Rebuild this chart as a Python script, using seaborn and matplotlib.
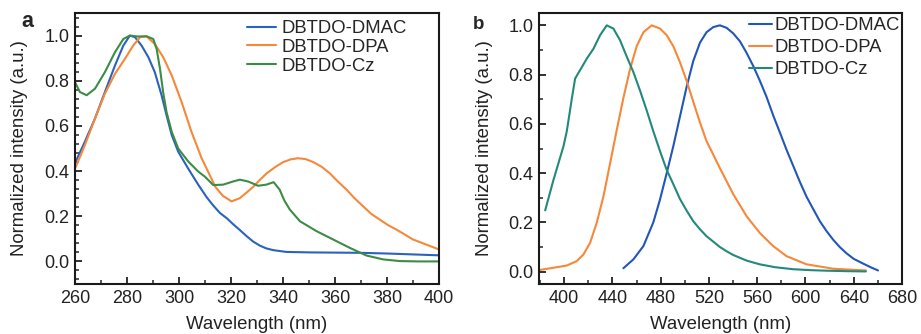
import numpy as np
import pandas as pd
import seaborn as sns
import matplotlib.pyplot as plt
from matplotlib.ticker import MultipleLocator

# ---------------- Panel a: absorption ----------------
a_dmac_x = [260, 263.8, 267.7, 271.5, 275.4, 278.6, 281.1, 283.1, 285.6, 288.2, 290.7, 293.3,
            295.2, 297.2, 299.7, 303.6, 307.4, 310.6, 313, 315.7, 318.5, 320.8, 323.5, 326,
            328.5, 331.1, 333.5, 336.2, 341.3, 350, 360, 370, 380, 390, 400]
a_dmac_y = [0.435, 0.53, 0.633, 0.75, 0.868, 0.956, 1.0, 0.993, 0.956, 0.905, 0.838, 0.736,
            0.648, 0.56, 0.486, 0.41, 0.34, 0.285, 0.25, 0.215, 0.19, 0.165, 0.138, 0.112,
            0.088, 0.07, 0.058, 0.05, 0.042, 0.04, 0.039, 0.038, 0.035, 0.031, 0.027]

a_dpa_x = [260, 263.8, 267.7, 271.5, 275.4, 279.2, 282.4, 285, 287.5, 290.7, 293.9, 297.2,
           301, 304.8, 308.7, 311.5, 314, 316.9, 320.2, 323.4, 326, 328.5, 331, 333.7, 337,
           340.1, 343, 345.8, 348.7, 351.6, 355, 358, 361, 364.4, 367.5, 370.8, 374, 377.2,
           380.5, 383.6, 387, 390, 395, 400]
a_dpa_y = [0.41, 0.515, 0.633, 0.743, 0.831, 0.897, 0.956, 0.993, 0.997, 0.963, 0.905, 0.824,
           0.706, 0.574, 0.457, 0.39, 0.33, 0.29, 0.266, 0.28, 0.305, 0.33, 0.36, 0.39, 0.418,
           0.44, 0.452, 0.457, 0.453, 0.44, 0.418, 0.39, 0.355, 0.318, 0.28, 0.244, 0.21, 0.185,
           0.16, 0.141, 0.118, 0.097, 0.075, 0.053]

a_cz_x = [260, 261.9, 264.5, 267.7, 271.5, 275.4, 278.6, 281.1, 284.3, 287.5, 290.1, 291.4,
          292.7, 293.9, 295.2, 297.2, 299.7, 303.6, 307.4, 310, 313.2, 317, 320.8, 323.4,
          326.6, 330.4, 333.6, 336.4, 338.7, 340.5, 342.6, 346.5, 352.9, 359.3, 365.7, 372.1,
          378.5, 384.9, 392, 400]
a_cz_y = [0.794, 0.75, 0.736, 0.765, 0.838, 0.927, 0.985, 1.0, 0.996, 0.997, 0.985, 0.941,
          0.853, 0.75, 0.662, 0.574, 0.50, 0.442, 0.398, 0.375, 0.338, 0.34, 0.354, 0.362,
          0.354, 0.335, 0.34, 0.351, 0.318, 0.27, 0.23, 0.178, 0.134, 0.097, 0.06, 0.026,
          0.009, 0.0015, 0.0, 0.0]

# ---------------- Panel b: emission ----------------
b_dmac_x = [449.1, 457.4, 465.7, 473.9, 479.4, 485, 490.5, 496, 501.5, 507, 512.6, 518, 523.6,
            529.1, 534.6, 540, 545.7, 551, 556.7, 562.2, 567.7, 573.2, 578.8, 584.3, 589.8,
            595.3, 600.8, 606.3, 611.9, 617.4, 622.9, 628.4, 633.9, 640, 647.7, 654, 660.1]
b_dmac_y = [0.014, 0.05, 0.104, 0.2, 0.292, 0.40, 0.51, 0.63, 0.75, 0.855, 0.93, 0.972, 0.993,
            1.0, 0.99, 0.968, 0.935, 0.89, 0.835, 0.775, 0.71, 0.635, 0.565, 0.495, 0.43,
            0.365, 0.305, 0.255, 0.205, 0.165, 0.13, 0.1, 0.075, 0.052, 0.033, 0.018, 0.005]

b_dpa_x = [380, 391.2, 402.2, 410.5, 416, 421.5, 427, 432.6, 438.1, 443.6, 449.1, 454.6, 460.1,
           465.7, 472.6, 479.4, 485, 490.5, 496, 501.5, 507, 512.6, 518, 523.6, 529.1, 540.1,
           551.2, 562.2, 573.2, 584.3, 600.8, 622.9, 650]
b_dpa_y = [0.007, 0.016, 0.025, 0.043, 0.07, 0.117, 0.198, 0.306, 0.44, 0.575, 0.705, 0.822,
           0.915, 0.972, 1.0, 0.987, 0.96, 0.915, 0.85, 0.775, 0.69, 0.605, 0.53, 0.475, 0.42,
           0.315, 0.225, 0.157, 0.104, 0.063, 0.03, 0.012, 0.005]

b_cz_x = [384.3, 391.2, 399.4, 402.2, 406.3, 409.1, 413.2, 418.8, 424.3, 429.8, 435.3, 440.8,
          446.3, 451.9, 457.4, 462.9, 468.4, 473.9, 479.4, 485, 490.5, 496, 501.5, 507, 512.6,
          518, 523.6, 529.1, 534.6, 540, 551.2, 562, 575, 589.8, 605, 617.4, 635, 650]
b_cz_y = [0.249, 0.373, 0.508, 0.57, 0.70, 0.784, 0.818, 0.865, 0.905, 0.96, 1.0, 0.987, 0.94,
          0.873, 0.81, 0.735, 0.655, 0.57, 0.49, 0.413, 0.355, 0.295, 0.248, 0.205, 0.172,
          0.144, 0.122, 0.10, 0.083, 0.068, 0.045, 0.03, 0.018, 0.01, 0.006, 0.004, 0.002, 0.001]

names = ["DBTDO-DMAC", "DBTDO-DPA", "DBTDO-Cz"]

def long_df(xs, ys):
    frames = []
    for n, x, y in zip(names, xs, ys):
        frames.append(pd.DataFrame({"wl": x, "I": y, "compound": n}))
    return pd.concat(frames, ignore_index=True)

df_a = long_df([a_dmac_x, a_dpa_x, a_cz_x], [a_dmac_y, a_dpa_y, a_cz_y])
df_b = long_df([b_dmac_x, b_dpa_x, b_cz_x], [b_dmac_y, b_dpa_y, b_cz_y])

pal_a = {"DBTDO-DMAC": "#2a62c0", "DBTDO-DPA": "#f5883a", "DBTDO-Cz": "#3d8c45"}
pal_b = {"DBTDO-DMAC": "#2256b8", "DBTDO-DPA": "#f5883a", "DBTDO-Cz": "#22897c"}

sns.set_style("ticks")
plt.rcParams["font.family"] = ["Liberation Sans", "DejaVu Sans"]
plt.rcParams["axes.linewidth"] = 1.5
plt.rcParams["xtick.direction"] = "in"
plt.rcParams["ytick.direction"] = "in"

fig = plt.figure(figsize=(9.21, 3.34), dpi=100)
ax_a = fig.add_axes([0.0814, 0.1497, 0.3953, 0.8113])
ax_b = fig.add_axes([0.585, 0.1497, 0.3944, 0.8113])

sns.lineplot(data=df_a, x="wl", y="I", hue="compound", palette=pal_a, hue_order=names,
             sort=False, estimator=None, lw=1.5, ax=ax_a)
sns.lineplot(data=df_b, x="wl", y="I", hue="compound", palette=pal_b, hue_order=names,
             sort=False, estimator=None, lw=1.5, ax=ax_b)

ax_a.set_xlim(260, 400)
ax_a.set_ylim(-0.1, 1.1)
ax_a.xaxis.set_major_locator(MultipleLocator(20))
ax_a.xaxis.set_minor_locator(MultipleLocator(10))
ax_a.yaxis.set_major_locator(MultipleLocator(0.2))
ax_a.yaxis.set_minor_locator(MultipleLocator(0.04))

ax_b.set_xlim(379, 680)
ax_b.set_ylim(-0.05, 1.05)
ax_b.xaxis.set_major_locator(MultipleLocator(40))
ax_b.xaxis.set_minor_locator(MultipleLocator(20))
ax_b.yaxis.set_major_locator(MultipleLocator(0.2))
ax_b.yaxis.set_minor_locator(MultipleLocator(0.1))

for ax in (ax_a, ax_b):
    ax.yaxis.set_major_formatter(plt.FuncFormatter(lambda v, p: f"{v:.1f}"))
    ax.tick_params(which="major", length=5, width=1.3, labelsize=13, colors="#222222",
                   top=False, right=False, pad=4)
    ax.tick_params(which="minor", length=3, width=1.1, top=False, right=False)
    ax.set_xlabel("Wavelength (nm)", fontsize=13.4, color="#222222")
    ax.set_ylabel("Normalized intensity (a.u.)", fontsize=13.4, color="#222222")
    ax.xaxis.set_label_coords(0.5, -0.118)
    for s in ax.spines.values():
        s.set_visible(True)
        s.set_color("#1a1a1a")

ax_a.yaxis.set_label_coords(-0.129, 0.5)
ax_b.yaxis.set_label_coords(-0.126, 0.5)

ax_a.legend(loc="upper left", bbox_to_anchor=(0.4725, 0.974), frameon=False, fontsize=13.3,
            handlelength=1.57, handletextpad=0.32, labelspacing=0.1, borderaxespad=0,
            borderpad=0)
ax_b.legend(loc="upper left", bbox_to_anchor=(0.579, 0.985), frameon=False, fontsize=13.3,
            handlelength=1.24, handletextpad=0.16, labelspacing=0.27, borderaxespad=0,
            borderpad=0)

fig.text(0.0228, 0.919, "a", fontsize=15.5, fontweight="bold")
fig.text(0.5136, 0.913, "b", fontsize=13.5, fontweight="bold")

fig.savefig("out.png", dpi=100)
